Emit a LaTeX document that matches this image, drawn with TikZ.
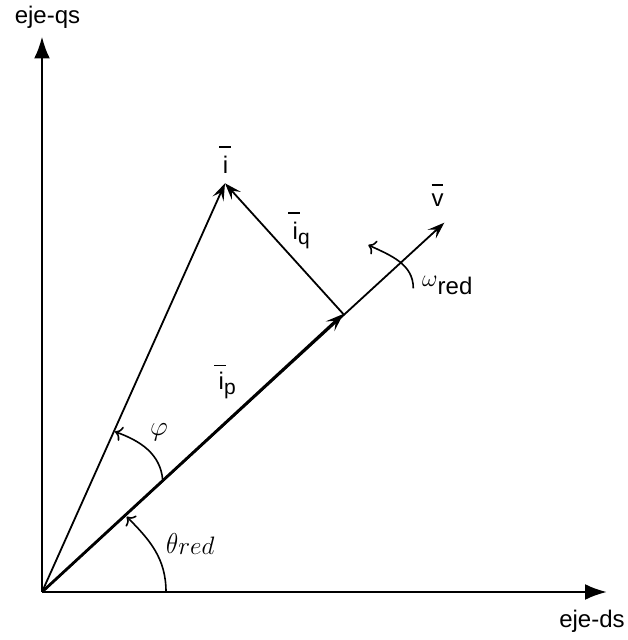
\RequirePackage{fix-cm}
\documentclass[tikz,border=0pt]{standalone}
\usepackage{fontspec}
\setmainfont{Liberation Sans}
\usetikzlibrary{arrows.meta}
% bar over a letter: #1 = shift left, #2 = raise, #3 = width, #4 = letter
\newcommand{\vb}[4]{\leavevmode\rlap{\hspace{-#1}\raisebox{#2}{\rule{#3}{1.8pt}}}#4}
\newcommand{\sbt}[1]{\raisebox{-4.5pt}{\fontsize{21}{23}\selectfont #1}}
\begin{document}
\begin{tikzpicture}[x=1pt,y=1pt,
  axis/.style={line width=2.6pt,-{Latex[length=22pt,width=16pt]}},
  vec/.style={line width=1.8pt,-{Stealth[length=17pt,width=12pt,inset=7pt]}},
  vecthick/.style={line width=2.8pt,-{Stealth[length=18pt,width=13pt,inset=8pt]}},
  angarc/.style={line width=1.6pt,-{To[length=7pt,width=15pt]}},
  lbl/.style={inner sep=0pt,font=\fontsize{24}{28}\selectfont}]
\useasboundingbox (0,0) rectangle (628,640);
\coordinate (O) at (42,48);
\coordinate (X) at (607,48);
\coordinate (Y) at (42,603.5);
\coordinate (I) at (225,456.7);
\coordinate (V) at (444.3,417.3);
\coordinate (P) at (343.3,326);
\draw[axis] (O) -- (X);
\draw[axis] (O) -- (Y);
\draw[vec] (O) -- (I);
\draw[vec] (O) -- (V);
\draw[vecthick] (O) -- (P);
\draw[vec] (P) -- (I);
\coordinate (T1) at (166,48);
\coordinate (T2) at (126.7,123.3);
\draw[angarc] (T1) to[out=90,in=-45] (T2);
\coordinate (F1) at (162.7,160);
\coordinate (F2) at (115,208.3);
\draw[angarc] (F1) to[out=95,in=-20] (F2);
\coordinate (W1) at (413.3,351.7);
\coordinate (W2) at (368.3,395);
\draw[angarc] (W1) to[out=90,in=-25] (W2);
\node[lbl,anchor=base] (lqs) at (47.5,616.7) {eje-qs};
\node[lbl,anchor=base] (lds) at (592,12.7) {eje-ds};
\node[lbl,anchor=base] (li) at (225.5,466.7) {\vb{3.5pt}{25pt}{12pt}{i}};
\node[lbl,anchor=base] (lv) at (437.5,433.3) {\vb{0pt}{21pt}{11pt}{v}};
\node[lbl,anchor=base west] (liq) at (292.5,400) {\vb{4.5pt}{26pt}{12pt}{i}\sbt{q}};
\node[lbl,anchor=base west] (lip) at (218.5,250) {\vb{4.5pt}{23.5pt}{12pt}{i}\sbt{p}};
\node[lbl] (lphi) at (159,208) {\scalebox{1.15}{$\varphi$}};
\node[lbl,anchor=base west] (lth) at (166,86.7) {\scalebox{1.05}[1.2]{$\theta$}\raisebox{-1.5pt}{\scalebox{1.05}{$red$}}};
\node[lbl,anchor=base west] (lom) at (422,353.3) {$\omega$\raisebox{-8.3pt}{red}};
\end{tikzpicture}
\end{document}
